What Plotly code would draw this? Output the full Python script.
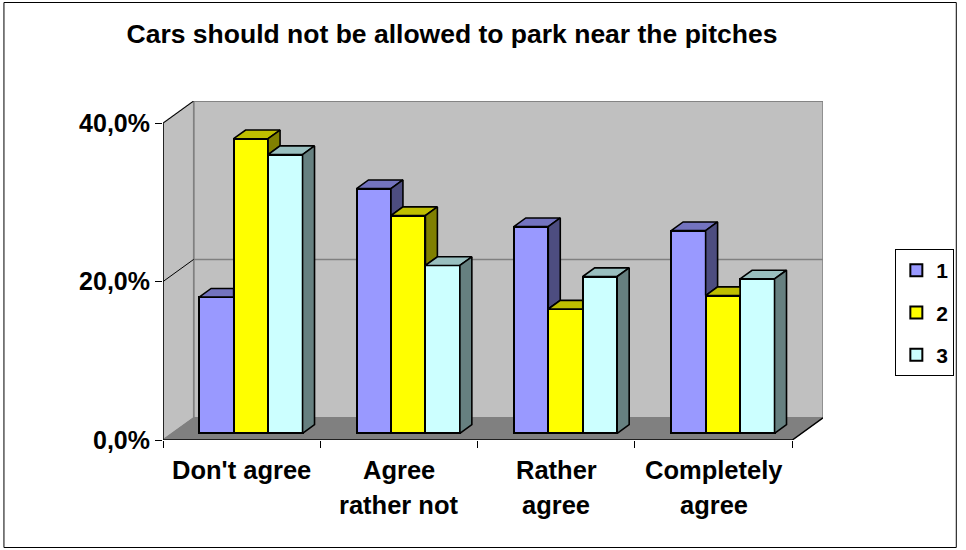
import plotly.graph_objects as go

# ---------------- data ----------------
categories = ["Don't agree", "Agree rather not", "Rather agree", "Completely agree"]
category_lines = [["Don't agree"], ["Agree", "rather not"], ["Rather", "agree"], ["Completely", "agree"]]
series_names = ["1", "2", "3"]
series1 = [17.2, 30.9, 26.1, 25.6]
series2 = [37.2, 27.5, 15.7, 17.4]
series3 = [35.2, 21.2, 19.8, 19.5]
y_tick_values = [0, 20, 40]
y_tick_labels = ["0,0%", "20,0%", "40,0%"]
chart_title = "Cars should not be allowed to park near the pitches"

# ---------------- style ----------------
front_colors = ["#9999FF", "#FFFF00", "#CCFFFF"]
top_colors = ["#7373BF", "#BFBF00", "#99BFBF"]
side_colors = ["#4D4D80", "#808000", "#668080"]
FONT = "Liberation Sans, Arial, sans-serif"

W, H = 966, 550
ML, MR, MT, MB = 163, 137, 101, 110
DX, DY = 0.195, 2.8          # depth of the 3D box (x units, y units)
BAR_W = 0.219
F0, F1 = 0.30, 0.69          # front/back depth fraction of the bars
YMAX = 40
ddx, ddy = (F1 - F0) * DX, (F1 - F0) * DY
base = F0 * DY

series = [series1, series2, series3]
n = len(categories)
xmin, xmax = -0.5, n - 0.5

fig = go.Figure()

# front faces (bars)
for j, vals in enumerate(series):
    fig.add_trace(go.Bar(
        x=[i + (j - 1) * BAR_W + F0 * DX for i in range(n)],
        y=vals, base=base, width=BAR_W, name=series_names[j],
        marker=dict(color=front_colors[j], line=dict(color="black", width=2)),
        legendgroup=series_names[j], hoverinfo="skip",
    ))

def poly(xs, ys, color):
    fig.add_trace(go.Scatter(
        x=xs + [xs[0]], y=ys + [ys[0]], mode="lines", fill="toself",
        fillcolor=color, line=dict(color="black", width=1.6),
        showlegend=False, hoverinfo="skip"))

# top and side faces, painted left to right and clipped by the next bar
for i in range(n):
    for j, vals in enumerate(series):
        xl = i + (j - 1.5) * BAR_W + F0 * DX
        xr = xl + BAR_W
        t = base + vals[i]
        t2 = base + series[j + 1][i] if j < len(series) - 1 else None
        # top face
        if t2 is not None and t2 > t:
            if t2 < t + ddy:
                k = (t2 - t) / ddy
                poly([xl, xr, xr, xr + k * ddx, xr + ddx, xl + ddx],
                     [t, t, t2, t2, t + ddy, t + ddy], top_colors[j])
            else:
                poly([xl, xr, xr, xl + ddx], [t, t, t + ddy, t + ddy], top_colors[j])
        else:
            poly([xl, xr, xr + ddx, xl + ddx], [t, t, t + ddy, t + ddy], top_colors[j])
        # side face
        if t2 is None:
            poly([xr, xr + ddx, xr + ddx, xr], [base, base + ddy, t + ddy, t], side_colors[j])
        elif t2 < t:
            poly([xr, xr + ddx, xr + ddx, xr], [t2, t2 + ddy, t + ddy, t], side_colors[j])

# ---------------- walls, floor, gridlines ----------------
shapes = []
def path_shape(pts, fill, line_color, width=1, closed=True):
    d = "M " + " L ".join(f"{x},{y}" for x, y in pts) + (" Z" if closed else "")
    shapes.append(dict(type="path", path=d, xref="x", yref="y", layer="below",
                       fillcolor=fill, line=dict(color=line_color, width=width)))

# back wall
path_shape([(xmin + DX, DY), (xmax + DX, DY), (xmax + DX, YMAX + DY), (xmin + DX, YMAX + DY)],
           "#C0C0C0", "#808080", 1.5)
# left wall
path_shape([(xmin, 0), (xmin + DX, DY), (xmin + DX, YMAX + DY), (xmin, YMAX)],
           "#C0C0C0", "#808080", 1.5)
# floor
path_shape([(xmin, 0), (xmax, 0), (xmax + DX, DY), (xmin + DX, DY)],
           "#808080", "#808080", 1)
# gridlines
for v in y_tick_values[1:]:
    path_shape([(xmin + DX, v + DY), (xmax + DX, v + DY)], "rgba(0,0,0,0)", "#808080", 1.5, closed=False)
    path_shape([(xmin, v), (xmin + DX, v + DY)], "rgba(0,0,0,0)", "black", 1, closed=False)
# axis lines
path_shape([(xmin, 0), (xmin, YMAX)], "rgba(0,0,0,0)", "black", 1.5, closed=False)
path_shape([(xmin, 0), (xmax, 0), (xmax + DX, DY)], "rgba(0,0,0,0)", "black", 1.5, closed=False)

# outer chart border (paper coords from pixels)
pw, ph = W - ML - MR, H - MT - MB
def px2paper_x(px): return (px - ML) / pw
def px2paper_y(py): return (H - MB - py) / ph
shapes.append(dict(type="rect", xref="paper", yref="paper",
                   x0=px2paper_x(2.5), x1=px2paper_x(963.5),
                   y0=px2paper_y(547.5), y1=px2paper_y(2.5),
                   line=dict(color="black", width=1), fillcolor="rgba(0,0,0,0)", layer="below"))

# category labels
annotations = []
for i, lines in enumerate(category_lines):
    for k, txt in enumerate(lines):
        annotations.append(dict(
            x=i, y=0, xref="x", yref="paper", text=txt, showarrow=False,
            xanchor="center", yanchor="middle", yshift=-30 - 35 * k,
            font=dict(family=FONT, size=25.5, color="black", weight="bold")))

fig.update_layout(
    width=W, height=H, autosize=False,
    margin=dict(l=ML, r=MR, t=MT, b=MB, pad=0),
    paper_bgcolor="white", plot_bgcolor="white",
    barmode="overlay", bargap=0,
    shapes=shapes, annotations=annotations,
    title=dict(text=chart_title, x=452 / W, xref="container", xanchor="center",
               y=1 - 34 / H, yref="container", yanchor="middle",
               font=dict(family=FONT, size=26.5, color="black", weight="bold")),
    xaxis=dict(range=[xmin, xmax + DX], showgrid=False, zeroline=False, showline=False,
               tickmode="array", tickvals=[xmin + k for k in range(n + 1)],
               ticks="outside", ticklen=7, tickcolor="black", tickwidth=1,
               showticklabels=False, fixedrange=True),
    yaxis=dict(range=[0, YMAX + DY], showgrid=False, zeroline=False, showline=False,
               tickmode="array", tickvals=y_tick_values, ticktext=y_tick_labels,
               ticks="outside", ticklen=7, tickcolor="black", tickwidth=1,
               tickfont=dict(family=FONT, size=25, color="black", weight="bold"),
               fixedrange=True),
    legend=dict(x=px2paper_x(902), y=px2paper_y(249), xanchor="left", yanchor="top",
                bordercolor="black", borderwidth=1, bgcolor="white",
                font=dict(family=FONT, size=21, color="black", weight="bold"),
                traceorder="grouped", tracegroupgap=12, itemwidth=30),
    showlegend=True,
)

fig.write_html("out.html", config={"displayModeBar": False},
               post_script="document.body.style.margin='0';document.body.style.overflow='hidden';")
